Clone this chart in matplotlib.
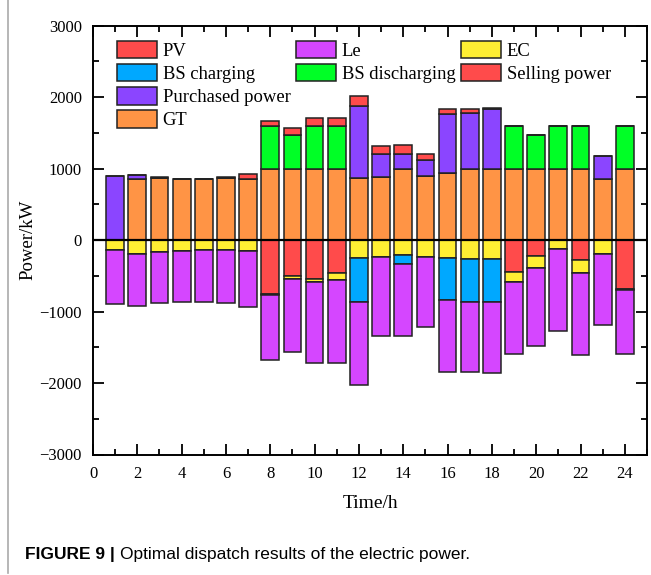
import matplotlib
matplotlib.use("Agg")
import matplotlib.pyplot as plt
from matplotlib.patches import Patch
from matplotlib.lines import Line2D
from matplotlib.ticker import MultipleLocator
import numpy as np

hours = np.arange(1, 25)

# supply side (positive)
gt = [0, 855, 870, 855, 855, 868, 860, 1000, 1000, 1000, 1000, 870,
      880, 1000, 890, 945, 1000, 1000, 1000, 1000, 1000, 1000, 855, 1000]
bs_dis = [0, 0, 0, 0, 0, 0, 0, 590, 470, 590, 590, 0,
          0, 0, 0, 0, 0, 0, 590, 470, 590, 590, 0, 590]
purchased = [900, 60, 0, 0, 0, 0, 0, 0, 0, 0, 0, 1005,
             320, 210, 230, 815, 785, 835, 0, 0, 0, 0, 320, 0]
pv = [0, 0, 10, 0, 0, 10, 65, 75, 95, 115, 120, 135,
      120, 120, 85, 75, 50, 15, 0, 0, 0, 0, 0, 0]

# demand side (negative)
selling = [0, 0, 0, 0, 0, 0, 0, 760, 500, 550, 455, 0,
           0, 0, 0, 0, 0, 0, 445, 225, 0, 280, 0, 680]
ec = [140, 190, 165, 150, 136, 136, 150, 15, 45, 40, 110, 255,
      235, 215, 230, 245, 260, 270, 135, 160, 130, 185, 190, 25]
bs_ch = [0, 0, 0, 0, 0, 0, 0, 0, 0, 0, 0, 605,
         0, 125, 0, 600, 600, 600, 0, 0, 0, 0, 0, 0]
le = [760, 730, 720, 717, 735, 750, 780, 900, 1025, 1125, 1160, 1165,
      1105, 1005, 990, 1000, 985, 990, 1020, 1100, 1140, 1140, 1000, 895]

c_pv = "#FF4B4B"
c_le = "#D546FF"
c_ec = "#FFEE33"
c_bsch = "#00A8FF"
c_bsdis = "#00FF26"
c_sell = "#FF4B4B"
c_pur = "#8B45FF"
c_gt = "#FF9445"

plt.rcParams["font.family"] = ["Liberation Serif", "DejaVu Serif"]

fig = plt.figure(figsize=(6.51, 5.75), dpi=100)
ax = fig.add_axes([93 / 651, 1 - 454.5 / 575, 554 / 651, 428.8 / 575])

w = 0.8
kw = dict(width=w, edgecolor="#222222", linewidth=1.1)

gt_a = np.array(gt, float)
dis_a = np.array(bs_dis, float)
pur_a = np.array(purchased, float)
pv_a = np.array(pv, float)
b_gt = ax.bar(hours, gt_a, color=c_gt, **kw)
b_dis = ax.bar(hours, dis_a, bottom=gt_a, color=c_bsdis, **kw)
b_pur = ax.bar(hours, pur_a, bottom=gt_a + dis_a, color=c_pur, **kw)
b_pv = ax.bar(hours, pv_a, bottom=gt_a + dis_a + pur_a, color=c_pv, **kw)

sell_a = -np.array(selling, float)
ec_a = -np.array(ec, float)
ch_a = -np.array(bs_ch, float)
le_a = -np.array(le, float)
b_sell = ax.bar(hours, sell_a, color=c_sell, **kw)
b_ec = ax.bar(hours, ec_a, bottom=sell_a, color=c_ec, **kw)
b_ch = ax.bar(hours, ch_a, bottom=sell_a + ec_a, color=c_bsch, **kw)
b_le = ax.bar(hours, le_a, bottom=sell_a + ec_a + ch_a, color=c_le, **kw)

ax.axhline(0, color="black", linewidth=1.6, zorder=5)

ax.set_xlim(0, 25)
ax.set_ylim(-3000, 3000)
ax.xaxis.set_major_locator(MultipleLocator(2))
ax.xaxis.set_minor_locator(MultipleLocator(1))
ax.yaxis.set_major_locator(MultipleLocator(1000))
ax.yaxis.set_minor_locator(MultipleLocator(500))
ax.tick_params(which="both", direction="in", top=True, right=True,
               labelsize=12, width=1.3, pad=8)
ax.tick_params(which="major", length=8)
ax.tick_params(which="minor", length=4)
for s in ax.spines.values():
    s.set_linewidth(1.4)

ax.set_xlabel("Time/h", fontsize=14, labelpad=10)
ax.set_ylabel("Power/kW", fontsize=13.5, labelpad=2)

blank = Patch(visible=False)
handles = [b_pv, b_ch, b_pur, b_gt,
           b_le, b_dis, blank, blank,
           b_ec, b_sell, blank, blank]
labels = ["PV", "BS charging", "Purchased power", "GT",
          "Le", "BS discharging", "", "",
          "EC", "Selling power", "", ""]
ax.legend(handles, labels, ncol=3, loc="upper left",
          bbox_to_anchor=(24 / 554, 1 - 15 / 428.8), frameon=False,
          fontsize=13.4, handlelength=2.15, handleheight=1.07,
          handletextpad=0.3, labelspacing=0.22, columnspacing=0.3,
          borderpad=0, borderaxespad=0)

# page border and caption
fig.add_artist(Line2D([8 / 651, 8 / 651], [0.003, 1], color="#aaaaaa", lw=1.2))
t1 = fig.text(25 / 651, 1 - 554 / 575, "FIGURE 9 |", fontsize=12.5,
              fontweight="bold", family="Liberation Sans", va="center")
fig.canvas.draw()
bb = t1.get_window_extent()
fig.text(bb.x1 / fig.bbox.width + 5 / 651, 1 - 554 / 575,
         "Optimal dispatch results of the electric power.", fontsize=12.5,
         family="Liberation Sans", va="center")

fig.savefig("out.png", dpi=100)
